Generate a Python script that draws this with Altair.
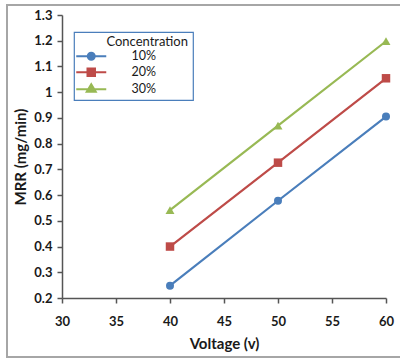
import altair as alt
import pandas as pd

# ---- data ----
voltage = [40, 50, 60]
series_names = ["10%", "20%", "30%"]
mrr_10 = [0.248, 0.578, 0.905]
mrr_20 = [0.400, 0.726, 1.054]
mrr_30 = [0.542, 0.870, 1.198]
x_ticks = [30, 35, 40, 45, 50, 55, 60]
y_ticks = [0.2, 0.3, 0.4, 0.5, 0.6, 0.7, 0.8, 0.9, 1.0, 1.1, 1.2, 1.3]

colors = ["#4A7EBB", "#BE4B48", "#98B954"]
marker_shapes = ["circle", "square", "triangle-up"]
marker_sizes = [64, 72, 80]
# legend symbols (units of sqrt(size)/2): a line with the marker in the middle,
# plus an empty point far right that sets the legend's width
legend_paths = [
    "M-1.6,0H4.4M2.1,0A0.7,0.7 0 1 1 0.7,0A0.7,0.7 0 1 1 2.1,0ZM20.0,0L20.0,0",
    "M-1.6,0H4.4M0.65,-0.75H2.15V0.75H0.65ZM20.0,0L20.0,0",
    "M-1.6,0H4.4M1.4,-1.0L2.3,0.5H0.5ZM20.0,0L20.0,0",
]

rows = []
for name, vals in zip(series_names, [mrr_10, mrr_20, mrr_30]):
    for v, m in zip(voltage, vals):
        rows.append({"Voltage": v, "MRR": m, "Series": name})
df = pd.DataFrame(rows)

FONT = "Lato"

xenc = alt.X(
    "Voltage:Q",
    scale=alt.Scale(domain=[30, 60], nice=False),
    axis=alt.Axis(values=x_ticks, title="Voltage (v)", grid=False,
                  labelFlush=False, labelPadding=12, titlePadding=8),
)
yenc = alt.Y(
    "MRR:Q",
    scale=alt.Scale(domain=[0.2, 1.3], nice=False, zero=False),
    axis=alt.Axis(values=y_ticks, format="~g", title="MRR (mg/min)", grid=False,
                  labelFlush=False, labelPadding=5, titlePadding=5),
)

base = alt.Chart(df)

layers = []
for name, col, shp, sz in zip(series_names, colors, marker_shapes, marker_sizes):
    sub = base.transform_filter(alt.datum.Series == name)
    layers.append(sub.mark_line(strokeWidth=2.2, color=col).encode(x=xenc, y=yenc))
    layers.append(
        sub.mark_point(filled=True, opacity=1, shape=shp, size=sz, color=col)
        .encode(x=xenc, y=yenc)
    )

leg = alt.Legend(
    title="Concentration\u00a0\u00a0\u00a0", orient="none", legendX=12, legendY=17,
)

# legend-only layer: marks placed off the canvas, only its legend is seen
legend_layer = (
    base.mark_point(filled=True, opacity=1, strokeWidth=2)
    .encode(
        x=alt.value(-2000), y=alt.value(-2000),
        fill=alt.Fill("Series:N", scale=alt.Scale(domain=series_names, range=colors),
                      legend=leg),
        stroke=alt.Stroke("Series:N", scale=alt.Scale(domain=series_names, range=colors),
                          legend=leg),
        shape=alt.Shape("Series:N", scale=alt.Scale(domain=series_names, range=legend_paths),
                        legend=leg),
    )
)

frame_df = pd.DataFrame({"k": [0]})
frame = alt.Chart(frame_df).mark_rect(
    fill=None, stroke="#A6A6A6", strokeWidth=2
).encode(
    x=alt.value(-55), x2=alt.value(400), y=alt.value(-10), y2=alt.value(342)
)

chart = (
    alt.layer(frame, *layers, legend_layer)
    .properties(
        width=324, height=283,
        autosize=alt.AutoSizeParams(type="none"),
        padding={"left": 62, "top": 15, "right": 14, "bottom": 62},
        background="white",
    )
    .configure_view(stroke=None)
    .configure_axis(
        labelFont=FONT, titleFont=FONT,
        labelFontSize=13, labelFontWeight="bold", labelColor="#1a1a1a",
        titleFontSize=15, titleFontWeight="bold", titleColor="#1a1a1a",
        domainColor="#555555", domainWidth=1.5,
        tickColor="#555555", tickWidth=1.5, tickSize=5,
    )
    .configure_legend(
        strokeColor="#4A7EBB", strokeWidth=1.2, fillColor="white",
        padding=4,
        titleFont=FONT, titleFontSize=13, titleFontWeight="normal",
        titleColor="#1a1a1a", titleAnchor="end", titlePadding=1,
        labelFont=FONT, labelFontSize=12.5, labelColor="#1a1a1a",
        labelOffset=41, rowPadding=0,
        symbolSize=100, symbolStrokeWidth=2,
    )
)

chart.save("out.html", embed_options={"renderer": "svg", "actions": False})
